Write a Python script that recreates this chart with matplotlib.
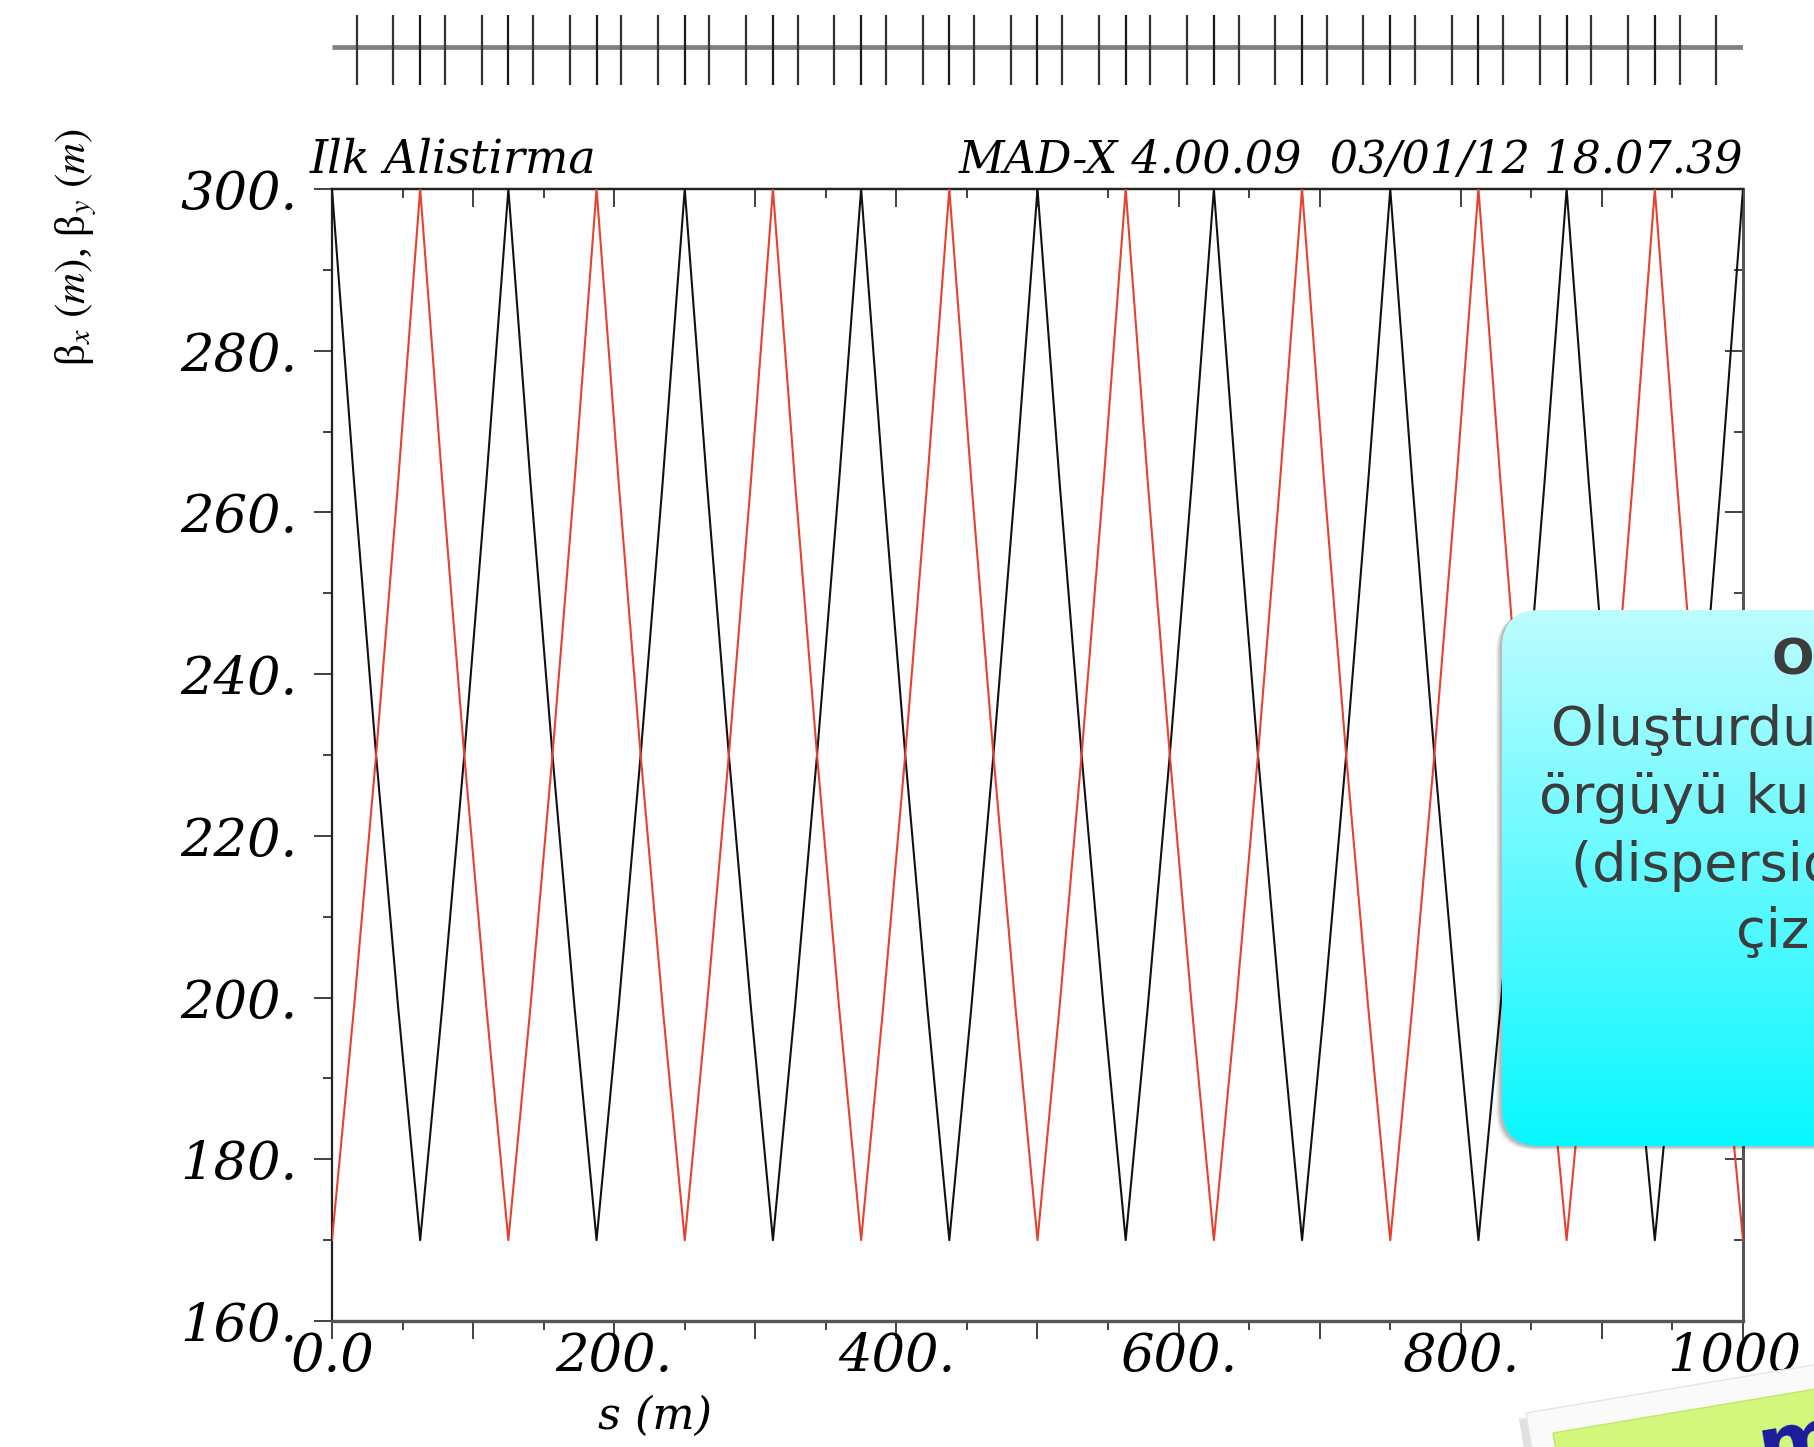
import matplotlib
matplotlib.use("Agg")
import matplotlib.pyplot as plt
import numpy as np
from matplotlib.patches import FancyBboxPatch, Polygon
from matplotlib.ticker import MultipleLocator

# ---------------- data ----------------
s_m = [0.0, 15.625, 31.25, 46.875, 62.5, 78.125, 93.75, 109.375, 125.0,
       140.625, 156.25, 171.875, 187.5, 203.125, 218.75, 234.375, 250.0,
       265.625, 281.25, 296.875, 312.5, 328.125, 343.75, 359.375, 375.0,
       390.625, 406.25, 421.875, 437.5, 453.125, 468.75, 484.375, 500.0,
       515.625, 531.25, 546.875, 562.5, 578.125, 593.75, 609.375, 625.0,
       640.625, 656.25, 671.875, 687.5, 703.125, 718.75, 734.375, 750.0,
       765.625, 781.25, 796.875, 812.5, 828.125, 843.75, 859.375, 875.0,
       890.625, 906.25, 921.875, 937.5, 953.125, 968.75, 984.375, 1000.0]
beta_x = [300, 263.8, 230, 198.8, 170, 198.8, 230, 263.8, 300,
          263.8, 230, 198.8, 170, 198.8, 230, 263.8, 300,
          263.8, 230, 198.8, 170, 198.8, 230, 263.8, 300,
          263.8, 230, 198.8, 170, 198.8, 230, 263.8, 300,
          263.8, 230, 198.8, 170, 198.8, 230, 263.8, 300,
          263.8, 230, 198.8, 170, 198.8, 230, 263.8, 300,
          263.8, 230, 198.8, 170, 198.8, 230, 263.8, 300,
          263.8, 230, 198.8, 170, 198.8, 230, 263.8, 300]
beta_y = [170, 198.8, 230, 263.8, 300, 263.8, 230, 198.8, 170,
          198.8, 230, 263.8, 300, 263.8, 230, 198.8, 170,
          198.8, 230, 263.8, 300, 263.8, 230, 198.8, 170,
          198.8, 230, 263.8, 300, 263.8, 230, 198.8, 170,
          198.8, 230, 263.8, 300, 263.8, 230, 198.8, 170,
          198.8, 230, 263.8, 300, 263.8, 230, 198.8, 170,
          198.8, 230, 263.8, 300, 263.8, 230, 198.8, 170,
          198.8, 230, 263.8, 300, 263.8, 230, 198.8, 170]

quad_s = [62.5, 125.0, 187.5, 250.0, 312.5, 375.0, 437.5, 500.0,
          562.5, 625.0, 687.5, 750.0, 812.5, 875.0, 937.5]
dipole_s = [17.5, 43.5, 80.0, 106.0, 142.5, 168.5, 205.0, 231.0,
            267.5, 293.5, 330.0, 356.0, 392.5, 418.5, 455.0, 481.0,
            517.5, 543.5, 580.0, 606.0, 642.5, 668.5, 705.0, 731.0,
            767.5, 793.5, 830.0, 856.0, 892.5, 918.5, 955.0, 981.0]

x_major = [0, 100, 200, 300, 400, 500, 600, 700, 800, 900, 1000]
x_labels = ["0.0", "", "200.", "", "400.", "", "600.", "", "800.", "", "1000."]
y_major = [160, 180, 200, 220, 240, 260, 280, 300]
y_labels = ["160.", "180.", "200.", "220.", "240.", "260.", "280.", "300."]

title_left = "Ilk Alistirma"
title_right = "MAD-X 4.00.09  03/01/12 18.07.39"
xlabel = "s (m)"
ylabel = r"β$_x$ $(m)$, β$_y$ $(m)$"

callout_title = "Optik Fonksiyonlar"
callout_lines = ["Oluşturduğunuz", "örgüyü kullanarak", "(dispersion) fonksiyonunu", "çiziniz"]
note_text = "madx"

# ---------------- figure ----------------
plt.rcParams["mathtext.fontset"] = "stix"
W, H = 1815, 1447
fig = plt.figure(figsize=(W / 100, H / 100), dpi=100)

L, R, T, B = 332, 1743, 189, 1321
ax = fig.add_axes([L / W, 1 - B / H, (R - L) / W, (B - T) / H])

ax.plot(s_m, beta_x, color="#111111", lw=1.5, zorder=3)
ax.plot(s_m, beta_y, color="#e8402f", lw=1.5, zorder=3)

ax.set_xlim(0, 1000)
ax.set_ylim(160, 300)

tick_font = dict(family="DejaVu Serif", style="italic", size=38)
ax.set_xticks(x_major)
ax.set_xticklabels(x_labels, **tick_font)
ax.set_yticks(y_major)
ax.set_yticklabels(y_labels, **tick_font)
ax.xaxis.set_minor_locator(MultipleLocator(50))
ax.yaxis.set_minor_locator(MultipleLocator(10))
ax.tick_params(which="both", direction="out", width=1.3, color="#333333")
ax.tick_params(which="major", length=13)
ax.tick_params(which="minor", length=6.5)
ax.tick_params(axis="x", pad=-6)
ax.tick_params(axis="y", pad=12)

for side, sp in ax.spines.items():
    sp.set_linewidth(1.6)
    sp.set_color("#222222")
ax.spines["bottom"].set_color("#555555")
ax.spines["bottom"].set_linewidth(2.4)
ax.spines["right"].set_color("#555555")
ax.spines["right"].set_linewidth(2.0)

top = ax.secondary_xaxis("top")
top.set_xticks(x_major)
top.xaxis.set_minor_locator(MultipleLocator(50))
top.tick_params(which="both", direction="in", labeltop=False, width=1.3, color="#333333")
top.tick_params(which="major", length=13)
top.tick_params(which="minor", length=6.5)
top.spines["top"].set_linewidth(1.6)

right = ax.secondary_yaxis("right")
right.set_yticks(y_major)
right.yaxis.set_minor_locator(MultipleLocator(10))
right.tick_params(which="both", direction="in", labelright=False, width=1.3, color="#333333")
right.tick_params(which="major", length=13)
right.tick_params(which="minor", length=6.5)
right.spines["right"].set_color("#555555")
right.spines["right"].set_linewidth(2.0)

ax.text(-0.016, 1.006, title_left, transform=ax.transAxes, ha="left", va="bottom",
        family="DejaVu Serif", style="italic", size=33)
ax.text(1.0, 1.006, title_right, transform=ax.transAxes, ha="right", va="bottom",
        family="DejaVu Serif", style="italic", size=32)

fig.text(655 / W, 1 - 1416 / H, xlabel, ha="center", va="center",
         family="DejaVu Serif", style="italic", size=32)
fig.text(76 / W, 1 - 247 / H, ylabel, ha="center", va="center", rotation=90,
         family=["Liberation Serif", "DejaVu Serif"], size=31)

# ---------------- lattice bar ----------------
lat = fig.add_axes([L / W, 1 - 85 / H, (R - L) / W, 70 / H])
lat.set_xlim(0, 1000)
lat.set_ylim(-1, 1)
lat.axis("off")
lat.plot([0, 1000], [0.09, 0.09], color="#808080", lw=3.4, solid_capstyle="butt")
lat.vlines(quad_s, -1, 1, color="#1a1a1a", lw=1.6)
lat.vlines(dipole_s, -1, 1, color="#333333", lw=1.6)

# ---------------- overlay (callout + note) ----------------
ov = fig.add_axes([0, 0, 1, 1], zorder=10)
ov.set_xlim(0, W)
ov.set_ylim(H, 0)
ov.axis("off")

bx0, by0, bx1, by1 = 1502, 610, 1900, 1146
for i, a in enumerate([0.05, 0.06, 0.08, 0.10]):
    d = 10 - 2 * i
    sh = FancyBboxPatch((bx0 - d * 0.6, by0 + d * 0.4), bx1 - bx0, by1 - by0,
                        boxstyle="round,pad=0,rounding_size=38",
                        fc="black", ec="none", alpha=a, zorder=1)
    ov.add_patch(sh)
box = FancyBboxPatch((bx0, by0), bx1 - bx0, by1 - by0,
                     boxstyle="round,pad=0,rounding_size=38",
                     fc="none", ec="none", zorder=2)
ov.add_patch(box)
c_top = np.array([0.74, 0.99, 1.0])
c_bot = np.array([0.03, 0.97, 1.0])
t = np.linspace(0, 1, 256)[:, None, None]
grad = c_top * (1 - t) + c_bot * t
im = ov.imshow(grad, extent=(bx0, bx1, by1, by0), origin="upper",
               aspect="auto", zorder=2, interpolation="bilinear")
im.set_clip_path(box)
ov.set_xlim(0, W)
ov.set_ylim(H, 0)

txt_col = "#3c3c3c"
ov.text(1772, 660, callout_title, ha="left", va="center", color=txt_col,
        family="DejaVu Sans", weight="bold", size=36, zorder=3)
line_pos = [(1551, 729), (1539, 798), (1571, 866), (1736, 932)]
for (lx, ly), line in zip(line_pos, callout_lines):
    ov.text(lx, ly, line, ha="left", va="center", color=txt_col,
            family="DejaVu Sans", size=39, zorder=3)

# green sticky note (rotated)
ang = np.deg2rad(9.5)
def rect(x0, y0, w, h):
    ux, uy = np.cos(ang), -np.sin(ang)
    vx, vy = np.sin(ang), np.cos(ang)
    return [(x0, y0), (x0 + w * ux, y0 + w * uy),
            (x0 + w * ux + h * vx, y0 + w * uy + h * vy), (x0 + h * vx, y0 + h * vy)]

ov.add_patch(Polygon(rect(1519, 1419, 420, 200), closed=True, fc="black", ec="none", alpha=0.12, zorder=4))
ov.add_patch(Polygon(rect(1526, 1413, 420, 200), closed=True, fc="#fafafa", ec="#e6e6e6", lw=1, zorder=5))
ov.add_patch(Polygon(rect(1553, 1433, 400, 200), closed=True, fc="#d3f77c", ec="#bfe86a", lw=1, zorder=6))
ov.text(1762, 1474, note_text, ha="left", va="baseline", color="#1b1b9e",
        family="DejaVu Sans", weight="bold", size=58, rotation=9.5,
        rotation_mode="anchor", zorder=7)

fig.savefig("out.png", dpi=100)
